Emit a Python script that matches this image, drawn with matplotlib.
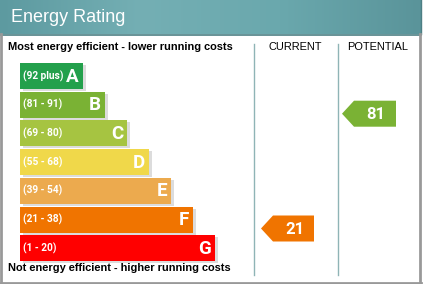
import matplotlib.pyplot as plt
import matplotlib.patches as mpatches
from matplotlib.colors import LinearSegmentedColormap
import numpy as np

# chart data
bands = ['A', 'B', 'C', 'D', 'E', 'F', 'G']
ranges = ['(92 plus)', '(81 - 91)', '(69 - 80)', '(55 - 68)', '(39 - 54)', '(21 - 38)', '(1 - 20)']
band_min = [92, 81, 69, 55, 39, 21, 1]
colors = ['#23a04c', '#7ab234', '#a6c441', '#f0d84a', '#ecaa4e', '#f07400', '#ff0000']
current = 21
potential = 81

W, H = 423, 284
fig = plt.figure(figsize=(W / 100, H / 100), dpi=100)
ax = fig.add_axes([0, 0, 1, 1])
ax.set_xlim(0, W)
ax.set_ylim(H, 0)
ax.axis('off')

# header with gradient
cmap = LinearSegmentedColormap.from_list('hdr', ['#5d9aa0', '#74afb4', '#6aa8ad', '#5a949a'])
grad = np.linspace(0, 1, 256).reshape(1, -1)
ax.imshow(grad, extent=(0, 421, 34, 0), aspect='auto', cmap=cmap, zorder=1)
ax.plot([0, 421], [34.5, 34.5], color='#4d7f84', lw=1.2, zorder=2)
ax.plot([420.5, 420.5], [0, 34], color='#4d7f84', lw=1, zorder=2)
ax.text(11, 17, 'Energy Rating', color='white', fontsize=13, family='Liberation Sans',
        va='center', ha='left', zorder=3)

# outer border
ax.plot([1, 1], [34, 283], color='#999999', lw=2, zorder=2)
ax.plot([420, 420], [34, 283], color='#999999', lw=2, zorder=2)
ax.plot([0, 421], [282.5, 282.5], color='#999999', lw=2, zorder=2)

# column separators
for x in (253.5, 337.5):
    ax.plot([x, x], [44, 275], color='#8fb4b6', lw=1, zorder=2)

ax.text(8, 47, 'Most energy efficient - lower running costs', fontsize=7.9, fontweight='bold',
        family='Liberation Sans', va='center', ha='left')
ax.text(295.5, 47, 'CURRENT', fontsize=7.9, family='Liberation Sans', va='center', ha='center')
ax.text(378, 47, 'POTENTIAL', fontsize=7.9, family='Liberation Sans', va='center', ha='center')
ax.text(8, 268, 'Not energy efficient - higher running costs', fontsize=7.9, fontweight='bold',
        family='Liberation Sans', va='center', ha='left')

# bars
x0, top0, pitch, bh = 20, 63, 28.7, 26
row_top = {}
for i, (b, r, c) in enumerate(zip(bands, ranges, colors)):
    y = top0 + i * pitch
    w = 63 + 22 * i
    row_top[b] = y
    ax.add_patch(mpatches.Rectangle((x0 + 3, y + 2), w, bh, color='#dcdcdc', lw=0, zorder=2))
    ax.add_patch(mpatches.Rectangle((x0, y), w, bh, color=c, lw=0, zorder=3))
    ax.text(x0 + 3, y + bh / 2, r, color='white', fontsize=7.3, fontweight='bold',
            family='Roboto', va='center', ha='left', zorder=4)
    ax.text(x0 + w - 4, y + bh / 2 + 0.5, b, color='white', fontsize=13.5, fontweight='bold',
            family='Roboto', va='center', ha='right', zorder=4)


def band_of(v):
    for b, m in zip(bands, band_min):
        if v >= m:
            return b
    return bands[-1]


def arrow(value, x_tip, x_right):
    b = band_of(value)
    c = colors[bands.index(b)]
    y = row_top[b] + 9
    h = 26
    pts = [(x_tip, y + h / 2), (x_tip + 12, y), (x_right, y), (x_right, y + h), (x_tip + 12, y + h)]
    ax.add_patch(mpatches.Polygon(pts, closed=True, color=c, lw=0, zorder=3))
    ax.text((x_tip + 12 + x_right) / 2 + 1, y + h / 2 + 0.5, str(value), color='white',
            fontsize=12, fontweight='bold', family='Roboto', va='center', ha='center', zorder=4)


arrow(current, 261, 314)
arrow(potential, 342, 396)

fig.savefig('out.png', dpi=100)
